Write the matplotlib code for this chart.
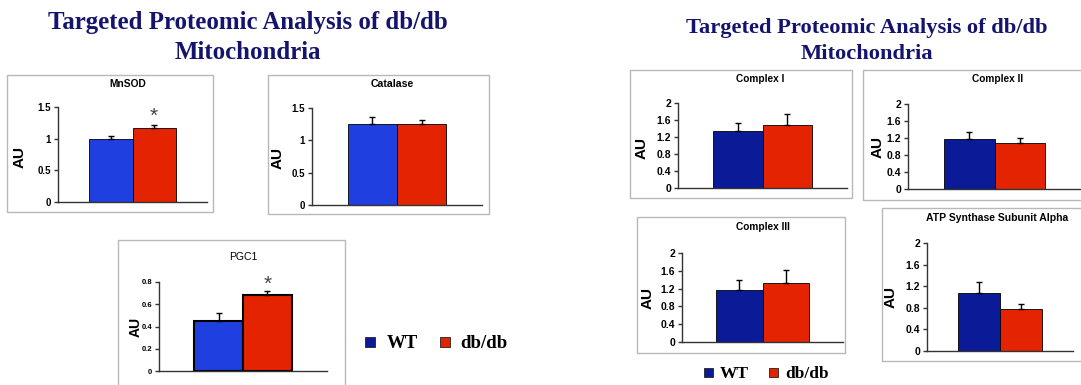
import matplotlib
matplotlib.use("Agg")
import matplotlib.pyplot as plt
from matplotlib.patches import Rectangle
from matplotlib.ticker import FuncFormatter

W, H = 1081, 385

# ---- data -------------------------------------------------------------
groups = ["WT", "db/db"]

mnsod_mean = [1.00, 1.17]
mnsod_err = [0.04, 0.04]
catalase_mean = [1.26, 1.25]
catalase_err = [0.10, 0.07]
pgc1_mean = [0.45, 0.68]
pgc1_err = [0.07, 0.04]

complex1_mean = [1.34, 1.48]
complex1_err = [0.19, 0.26]
complex2_mean = [1.17, 1.09]
complex2_err = [0.18, 0.11]
complex3_mean = [1.16, 1.33]
complex3_err = [0.23, 0.28]
atp_mean = [1.08, 0.77]
atp_err = [0.20, 0.10]

ticks_left = [0, 0.5, 1, 1.5]
ticks_pgc1 = [0, 0.2, 0.4, 0.6, 0.8]
ticks_right = [0, 0.4, 0.8, 1.2, 1.6, 2]

# ---- style ------------------------------------------------------------
SANS = "Liberation Sans"
SERIF = "Liberation Serif"
NAVY_TEXT = "#14146e"
BLUE_BRIGHT = "#1f3fe0"
BLUE_NAVY = "#0b1a96"
RED = "#e42300"
FRAME = "#b8b8b8"
AXIS = "#333333"

fig = plt.figure(figsize=(W / 100, H / 100), dpi=100)
fig.patch.set_facecolor("white")


def fx(x):
    return x / W


def fy(y):
    return 1 - y / H


def frame(left, top, right, bottom):
    fig.patches.append(Rectangle((fx(left), fy(bottom)), fx(right - left),
                                 (bottom - top) / H, transform=fig.transFigure,
                                 fill=False, edgecolor=FRAME, lw=1.0))


def panel(left, top, right, bottom, title, title_xy, au_xy, means, errs,
          ticks, colors, tick_size, au_size, title_size, title_weight="bold",
          edge_lw=0.6, star=None):
    ax = fig.add_axes([fx(left), fy(bottom), fx(right - left), (bottom - top) / H])
    ax.set_xlim(-1.22, 2.22)
    ax.set_ylim(ticks[0], ticks[-1])
    x = range(len(means))
    ax.bar(x, means, width=1.0, color=colors, edgecolor="black",
           linewidth=edge_lw, zorder=2)
    for xi, m, e in zip(x, means, errs):
        ax.errorbar(xi, m, yerr=[[0], [e]], fmt="none", ecolor="black",
                    elinewidth=1.0, capsize=2.5, capthick=1.0, zorder=3)
    if star is not None:
        ax.text(1, star, "*", ha="center", va="center", fontsize=15,
                color="#444444", family=SANS, clip_on=False)
    for s in ("top", "right"):
        ax.spines[s].set_visible(False)
    for s in ("left", "bottom"):
        ax.spines[s].set_color(AXIS)
        ax.spines[s].set_linewidth(1.0)
    ax.set_xticks([])
    ax.set_yticks(ticks)
    ax.yaxis.set_major_formatter(FuncFormatter(lambda v, p: "%g" % v))
    ax.tick_params(axis="y", direction="out", length=3, width=1.0,
                   color=AXIS, pad=2, labelsize=tick_size)
    for lab in ax.get_yticklabels():
        lab.set_fontfamily(SANS)
        lab.set_fontweight("bold")
    ax.patch.set_alpha(0)
    fig.text(fx(au_xy[0]), fy(au_xy[1]), "AU", rotation=90, ha="center",
             va="center", fontsize=au_size, fontweight="bold", family=SANS)
    fig.text(fx(title_xy[0]), fy(title_xy[1]), title, ha="center",
             va="center", fontsize=title_size, fontweight=title_weight,
             family=SANS)
    return ax


left_colors = [BLUE_BRIGHT, RED]
right_colors = [BLUE_NAVY, RED]

# ---- left group -------------------------------------------------------
fig.text(fx(248), fy(29), "Targeted Proteomic Analysis of db/db",
         ha="center", va="baseline", fontsize=17.9, fontweight="bold",
         family=SERIF, color=NAVY_TEXT)
fig.text(fx(248), fy(59), "Mitochondria", ha="center", va="baseline",
         fontsize=17.9, fontweight="bold", family=SERIF, color=NAVY_TEXT)

frame(7, 75, 213, 212)
panel(58, 107, 207, 202, "MnSOD", (128, 84), (20, 157), mnsod_mean,
      mnsod_err, ticks_left, left_colors, 7, 11, 7.4, star=1.36)

frame(268, 75, 489, 214)
panel(312, 108, 482, 205, "Catalase", (392, 84), (278, 158), catalase_mean,
      catalase_err, ticks_left, left_colors, 7, 11, 7.6)

frame(118, 240, 345, 392)
panel(159, 282, 327, 371, "PGC1", (243, 257), (136, 327), pgc1_mean,
      pgc1_err, ticks_pgc1, left_colors, 5.5, 10, 7.5,
      title_weight="normal", edge_lw=1.5, star=0.78)

# left legend
for sx, col, lab, tx in ((370, BLUE_NAVY, "WT", 387), (445, RED, "db/db", 460)):
    fig.patches.append(Rectangle((fx(sx - 5), fy(347)), fx(10), 10 / H,
                                 transform=fig.transFigure, facecolor=col,
                                 edgecolor="#222222", lw=0.6))
    fig.text(fx(tx), fy(348), lab, ha="left", va="baseline", fontsize=13.5,
             fontweight="bold", family=SERIF, color="black")

# ---- right group ------------------------------------------------------
fig.text(fx(867), fy(33), "Targeted Proteomic Analysis of db/db",
         ha="center", va="baseline", fontsize=16.2, fontweight="bold",
         family=SERIF, color=NAVY_TEXT)
fig.text(fx(867), fy(59), "Mitochondria", ha="center", va="baseline",
         fontsize=16.2, fontweight="bold", family=SERIF, color=NAVY_TEXT)

frame(630, 70, 852, 198)
panel(678, 103, 847, 188, "Complex I", (760, 79), (642, 148), complex1_mean,
      complex1_err, ticks_right, right_colors, 7.5, 11, 7.3)

frame(863, 70, 1090, 200)
panel(908, 104, 1081, 189, "Complex II", (998, 79), (878, 147),
      complex2_mean, complex2_err, ticks_right, right_colors, 7.5, 11, 7.3)

frame(637, 217, 845, 353)
panel(682, 253, 843, 342, "Complex III", (763, 227), (648, 298),
      complex3_mean, complex3_err, ticks_right, right_colors, 7.5, 11, 7.3)

frame(882, 208, 1090, 361)
panel(927, 243, 1073, 351, "ATP Synthase Subunit Alpha", (997, 218),
      (891, 297), atp_mean, atp_err, ticks_right, right_colors, 7.5, 11, 7.5)

# right legend
for sx, col, lab, tx in ((708, BLUE_NAVY, "WT", 720), (773, RED, "db/db", 785)):
    fig.patches.append(Rectangle((fx(sx - 4.5), fy(377)), fx(9), 9 / H,
                                 transform=fig.transFigure, facecolor=col,
                                 edgecolor="#222222", lw=0.6))
    fig.text(fx(tx), fy(378), lab, ha="left", va="baseline", fontsize=12.5,
             fontweight="bold", family=SERIF, color="black")

fig.savefig("out.png", dpi=100, facecolor="white")
